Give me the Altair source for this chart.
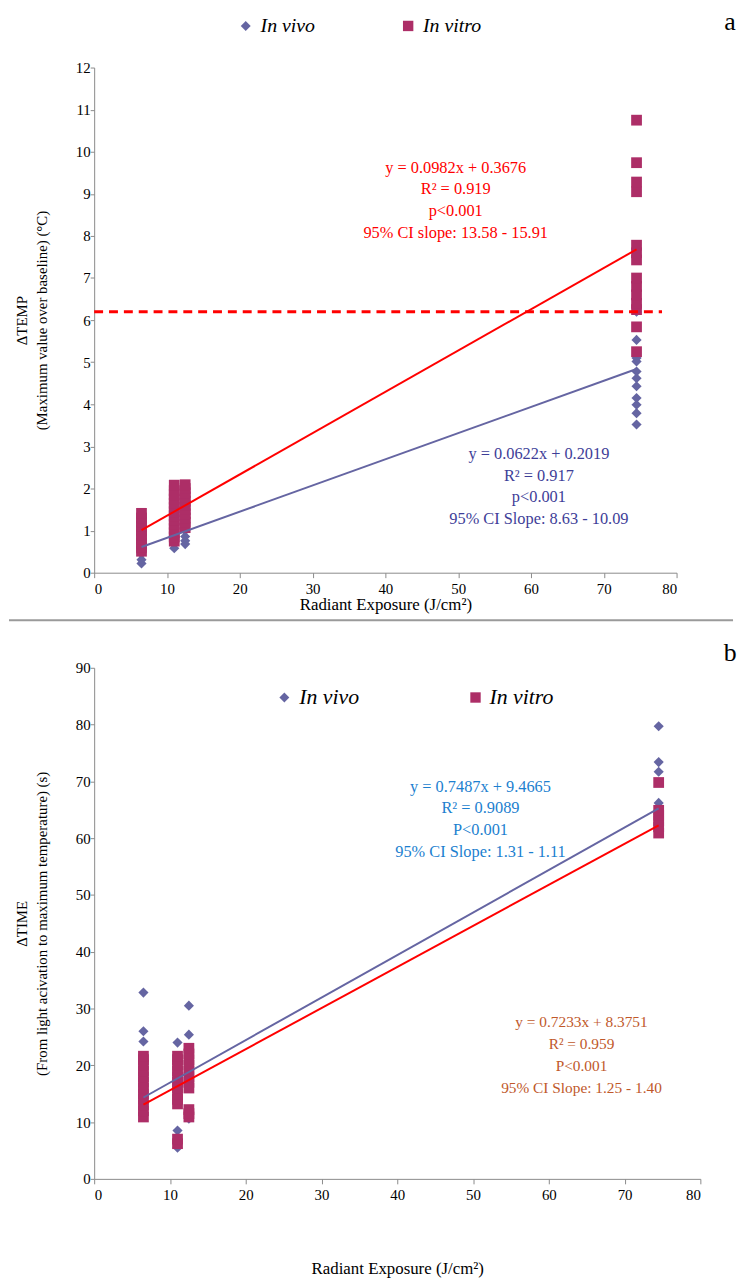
import altair as alt
import pandas as pd

SERIF = "Liberation Serif"
VIVO_C = "#6565A2"
VITRO_C = "#AD2E67"
RED = "#FF0000"
AX_C = "#8A8A8A"

X_LEVELS = [6.5, 11, 12.5, 74.5]

# ---------------- Panel a : ΔTEMP (°C) ----------------
A_VIVO = [
    [0.22, 0.31, 0.45, 0.60, 0.75, 0.90],
    [0.58, 0.80, 1.00, 1.20],
    [0.68, 0.76, 0.86, 1.00, 1.20],
    [3.52, 3.79, 3.99, 4.15, 4.43, 4.62, 4.78, 5.02, 5.10, 5.53, 6.20],
]
A_VITRO = [
    [0.51, 0.60, 0.70, 0.80, 0.90, 1.00, 1.10, 1.20, 1.30, 1.41],
    [0.75, 0.85, 0.95, 1.05, 1.15, 1.25, 1.35, 1.45, 1.55, 1.65, 1.75, 1.85, 1.95, 2.08],
    [1.07, 1.20, 1.30, 1.40, 1.50, 1.60, 1.70, 1.80, 1.90, 2.00, 2.09],
    [5.25, 5.84, 6.25, 6.40, 6.60, 6.80, 7.00, 7.43, 7.60, 7.78, 9.05, 9.28, 9.74, 10.75],
]
A_FIT_X = [6.5, 74.5]
A_FIT_VIVO = [0.61, 4.84]
A_FIT_VITRO = [1.01, 7.68]
A_THRESH_X = [0, 78]
A_THRESH_Y = [6.2, 6.2]
A_TEXT_VITRO = "y = 0.0982x + 0.3676\nR² = 0.919\np<0.001\n95% CI slope: 13.58 - 15.91"
A_TEXT_VIVO = "y = 0.0622x + 0.2019\nR² = 0.917\np<0.001\n95% CI Slope: 8.63 - 10.09"

# ---------------- Panel b : ΔTIME (s) ----------------
B_VIVO = [
    [32.8, 26.0, 24.2, 21.0, 18.0, 15.0],
    [24.0, 20.3, 17.0, 8.5, 5.5],
    [30.5, 25.4, 20.0, 16.5, 10.6],
    [79.7, 73.4, 71.7, 66.2, 65.0],
]
B_VITRO = [
    [10.9, 12.0, 13.0, 14.0, 15.0, 16.0, 17.0, 18.0, 19.0, 20.0, 21.0, 21.6],
    [6.2, 7.0, 13.2, 14.0, 15.0, 16.0, 17.0, 18.0, 19.0, 20.0, 21.0, 21.6],
    [10.9, 11.5, 12.2, 16.0, 17.0, 18.0, 19.0, 20.0, 21.0, 22.0, 23.0],
    [60.9, 62.0, 63.0, 64.0, 64.9, 69.8],
]
B_FIT_X = [6.5, 74.5]
B_FIT_VIVO = [14.33, 65.24]
B_FIT_VITRO = [13.08, 62.26]
B_TEXT_VIVO = "y = 0.7487x + 9.4665\nR² = 0.9089\nP<0.001\n95% CI Slope: 1.31 - 1.11"
B_TEXT_VITRO = "y = 0.7233x + 8.3751\nR² = 0.959\nP<0.001\n95% CI Slope: 1.25 - 1.40"

SERIES = ["In vivo", "In vitro"]
X_TITLE = "Radiant Exposure (J/cm²)"


def to_df(groups):
    rows = []
    for xv, ys in zip(X_LEVELS, groups):
        for yv in ys:
            rows.append({"x": xv, "y": yv})
    return pd.DataFrame(rows)


ONE = pd.DataFrame({"k": [0]})


def x_axis(title_pad):
    return alt.Axis(
        values=list(range(0, 81, 5)),
        labelExpr="datum.value % 10 == 0 ? datum.label : ''",
        grid=False, domainColor=AX_C, tickColor=AX_C, tickSize=5,
        labelPadding=4, labelFontSize=15, labelOverlap=False, labelFont=SERIF,
        labelColor="black", titleFont=SERIF, titleFontSize=17,
        titleFontWeight="normal", titleColor="black", titlePadding=title_pad,
    )


def y_axis(values, step):
    return alt.Axis(
        values=values,
        labelExpr=f"datum.value % {step} == 0 ? datum.label : ''",
        grid=False, domainColor=AX_C, tickColor=AX_C, tickSize=4,
        labelPadding=0, labelFontSize=15, labelOverlap=False, labelFont=SERIF,
        labelColor="black", titleFont=SERIF, titleFontSize=15,
        titleFontWeight="normal", titleColor="black", titlePadding=26,
        titleLineHeight=20,
    )


def txt(text, x, y, color, size=15, align="center", style="normal", baseline="top", lh=22):
    return alt.Chart(ONE).mark_text(
        text=text, lineBreak="\n", align=align, baseline=baseline, font=SERIF,
        fontSize=size, lineHeight=lh, color=color, fontStyle=style,
    ).encode(x=alt.value(x), y=alt.value(y))


def sym(shape, color, x, y, size):
    return alt.Chart(ONE).mark_point(
        shape=shape, filled=True, size=size, color=color, opacity=1
    ).encode(x=alt.value(x), y=alt.value(y))


def fit_line(xs, ys, color, width=2):
    df = pd.DataFrame({"x": xs, "y": ys})
    return alt.Chart(df).mark_line(color=color, strokeWidth=width).encode(x="x:Q", y="y:Q")


def panel(vivo, vitro, ydom, yvals, ystep, ytitle, w, h, xpad, layers):
    xs = alt.Scale(domain=[0, 80], nice=False, zero=False)
    ys = alt.Scale(domain=ydom, nice=False)
    base_x = alt.X("x:Q", scale=xs, axis=x_axis(xpad), title=X_TITLE)
    base_y = alt.Y("y:Q", scale=ys, axis=y_axis(yvals, ystep), title=ytitle)
    p_vivo = alt.Chart(to_df(vivo)).mark_point(
        shape="diamond", filled=True, size=105, color=VIVO_C, opacity=1
    ).encode(x=base_x, y=base_y)
    p_vitro = alt.Chart(to_df(vitro)).mark_point(
        shape="square", filled=True, size=118, color=VITRO_C, opacity=1
    ).encode(x="x:Q", y="y:Q")
    return alt.layer(p_vivo, p_vitro, *layers).properties(width=w, height=h)


# Panel a
a_thresh = alt.Chart(pd.DataFrame({"x": A_THRESH_X, "y": A_THRESH_Y})).mark_line(
    color=RED, strokeWidth=3, strokeDash=[9, 6]
).encode(x="x:Q", y="y:Q")

panel_a = panel(
    A_VIVO, A_VITRO, [0, 12], [v / 2 for v in range(0, 25)], 1,
    ["ΔTEMP", "(Maximum value over baseline) (°C)"], 588, 510, 0,
    [
        fit_line(A_FIT_X, A_FIT_VIVO, VIVO_C),
        fit_line(A_FIT_X, A_FIT_VITRO, RED),
        a_thresh,
        txt(A_TEXT_VITRO, 365, 93, RED, size=16.5),
        txt(A_TEXT_VIVO, 449, 382, "#3E3E98", size=16.5),
        sym("diamond", VIVO_C, 153, -42, 100),
        txt(SERIES[0], 168, -42, "black", size=20, align="left", style="italic", baseline="middle"),
        sym("square", VITRO_C, 317, -42, 110),
        txt(SERIES[1], 332, -42, "black", size=20, align="left", style="italic", baseline="middle"),
        txt("a", 642, -46, "black", size=26, baseline="middle"),
    ],
)

# Panel b
divider = alt.Chart(ONE).mark_rule(color="#9A9A9A", strokeWidth=2).encode(
    x=alt.value(-86), x2=alt.value(645), y=alt.value(-48)
)

panel_b = panel(
    B_VIVO, B_VITRO, [0, 90], list(range(0, 91, 5)), 10,
    ["ΔTIME", "(From light acivation to maximum temperature)  (s)"], 612, 516, 59,
    [
        fit_line(B_FIT_X, B_FIT_VIVO, VIVO_C),
        fit_line(B_FIT_X, B_FIT_VITRO, RED),
        txt(B_TEXT_VIVO, 390, 112, "#1C7FCF", size=16.5),
        txt(B_TEXT_VITRO, 492, 351, "#C0582A", size=15.5),
        sym("diamond", VIVO_C, 192, 30, 100),
        txt(SERIES[0], 207, 30, "black", size=22, align="left", style="italic", baseline="middle"),
        sym("square", VITRO_C, 385, 30, 110),
        txt(SERIES[1], 399, 30, "black", size=22, align="left", style="italic", baseline="middle"),
        txt("b", 642, -15, "black", size=26, baseline="middle"),
        divider,
    ],
)

chart = alt.vconcat(panel_a, panel_b, spacing=7).properties(
    padding={"left": 0, "top": -5, "right": 0, "bottom": 0}
).configure(background="white", font=SERIF).configure_view(stroke=None).configure_axis(
    labelFont=SERIF, titleFont=SERIF
)

chart.save("out.html", embed_options={"renderer": "svg", "actions": False})
